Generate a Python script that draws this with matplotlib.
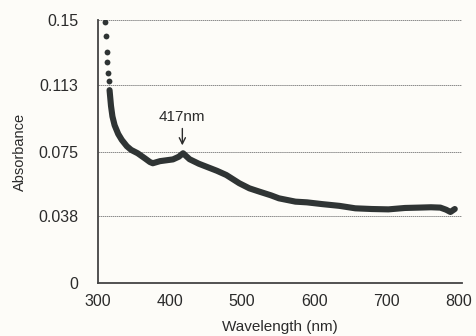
import matplotlib
matplotlib.use("Agg")
import matplotlib.pyplot as plt

# isolated readings at the steep start of the spectrum
start_nm = [310, 311, 312, 313, 314, 315]
start_abs = [0.149, 0.141, 0.132, 0.126, 0.120, 0.115]

# dense part of the spectrum
wavelength = [316, 318, 320, 323, 328, 333, 340, 346, 355, 365, 372, 376, 386, 395,
              404, 412, 418, 427, 440, 450, 465, 478, 496, 510, 524, 540, 551,
              574, 590, 611, 635, 657, 680, 703, 726, 745, 762, 775, 783, 789, 795]
absorbance = [0.110, 0.101, 0.095, 0.090, 0.085, 0.0816, 0.078, 0.0759, 0.074, 0.0711,
              0.069, 0.0683, 0.0695, 0.070, 0.0705, 0.072, 0.0740, 0.0706, 0.068,
              0.0664, 0.064, 0.0616, 0.0569, 0.054, 0.0521, 0.050, 0.0483, 0.0464,
              0.046, 0.0450, 0.044, 0.0426, 0.0422, 0.042, 0.0428, 0.043, 0.0432,
              0.043, 0.0418, 0.0405, 0.0422]

yticks = [0, 0.038, 0.075, 0.113, 0.15]
ytick_labels = ["0", "0.038", "0.075", "0.113", "0.15"]
xticks = [300, 400, 500, 600, 700, 800]

peak_nm = 417
peak_abs = 0.0740

plt.rcParams['font.family'] = ['Liberation Sans', 'DejaVu Sans']
ink = '#2f3434'
txt = '#2b2b2b'
bg = '#fdfcf8'

fig = plt.figure(figsize=(4.77, 3.36), dpi=100, facecolor=bg)
ax = fig.add_axes([0.2055, 0.1577, 0.763, 0.7828], facecolor=bg)

for y in yticks[1:]:
    ax.axhline(y, color='#8a8a8a', lw=0.7, ls=(0, (1.5, 0.6)), zorder=1)

ax.plot(start_nm, start_abs, 'o', color=ink, ms=4.2, mec='none', zorder=3)
ax.plot(wavelength, absorbance, '-', color=ink, lw=4.4,
        solid_capstyle='round', solid_joinstyle='round', zorder=3)

# label + arrow over the 417 nm peak
ax.annotate("417nm", xy=(peak_nm, 0.0785),
            xytext=(peak_nm, 0.0905), ha='center', va='bottom',
            fontsize=11, color=txt,
            arrowprops=dict(arrowstyle='->', color=txt, lw=1.0,
                            shrinkA=1, shrinkB=0))

ax.set_xlim(300, 805)
ax.set_ylim(0, 0.15)
ax.set_xticks(xticks)
ax.set_yticks(yticks)
ax.set_yticklabels(ytick_labels)
ax.tick_params(length=0, labelsize=11.5, colors=txt)
ax.tick_params(axis='y', pad=14)
ax.tick_params(axis='x', pad=8)

for s in ['top', 'right']:
    ax.spines[s].set_visible(False)
for s in ['left', 'bottom']:
    ax.spines[s].set_color('#444444')
    ax.spines[s].set_linewidth(1.3)

ax.set_xlabel("Wavelength (nm)", fontsize=11, color=txt, labelpad=8)
ax.set_ylabel("Absorbance", fontsize=10.5, color=txt, labelpad=8)

fig.savefig("out.png", dpi=100, facecolor=bg)
